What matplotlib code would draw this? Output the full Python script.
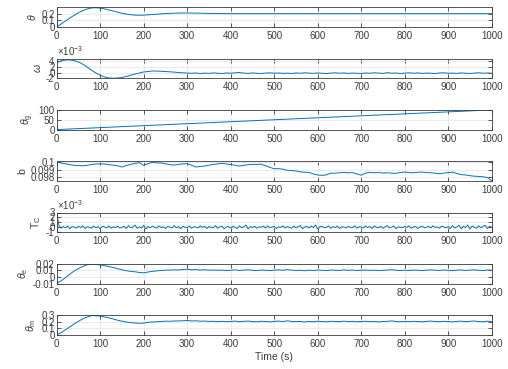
import numpy as np
import matplotlib.pyplot as plt

plt.rcParams['font.family'] = ['Liberation Sans', 'DejaVu Sans']
plt.rcParams['mathtext.fontset'] = 'custom'
plt.rcParams['mathtext.rm'] = 'Liberation Sans'
plt.rcParams['mathtext.it'] = 'Liberation Sans:italic'

# time axis (s)
t10 = np.arange(0, 1001, 10)
t5 = np.arange(0, 1001, 5)
theta_t = list(range(0, 400, 10)) + [400, 500, 600, 700, 800, 900, 1000]
thetag_t = [0, 100, 200, 300, 400, 500, 600, 700, 800, 900, 1000]

theta = [0, 0.045, 0.09, 0.133, 0.175, 0.213, 0.245, 0.27, 0.285, 0.289,
         0.283, 0.271, 0.256, 0.239, 0.222, 0.206, 0.193, 0.184, 0.178, 0.176,
         0.178, 0.182, 0.187, 0.192, 0.197, 0.201, 0.204, 0.207, 0.209, 0.21,
         0.21, 0.209, 0.208, 0.207, 0.205, 0.204, 0.203, 0.202, 0.201, 0.2,
         0.2, 0.2, 0.2, 0.2, 0.2, 0.2, 0.2]

# omega in units of 1e-3
omega = [3.6, 4.2, 4.5, 4.55, 4.3, 3.8, 3.0, 2.0, 0.9, -0.1,
         -0.9, -1.5, -1.85, -1.95, -1.9, -1.7, -1.35, -0.9, -0.5, -0.1,
         0.25, 0.4, 0.6, 0.55, 0.5, 0.4, 0.3, 0.2, 0.05, -0.05,
         -0.15, -0.2, -0.1, -0.3, -0.15, -0.25, -0.1, -0.2, -0.3, -0.1,
         -0.2, -0.05, 0.05, -0.15, -0.25, -0.1, -0.2, -0.3, -0.15, -0.05,
         -0.2, -0.1, -0.25, -0.15, -0.3, -0.1, -0.2, -0.05, -0.15, -0.25,
         -0.1, -0.2, -0.3, -0.15, -0.05, -0.2, -0.1, -0.25, -0.15, -0.2,
         -0.3, -0.1, -0.2, -0.05, -0.15, -0.25, 0.0, -0.2, -0.1, -0.3,
         -0.15, -0.05, -0.2, -0.1, -0.25, -0.15, -0.2, -0.3, -0.1, -0.05,
         -0.2, -0.15, -0.25, -0.1, -0.2, -0.3, -0.15, -0.05, -0.2, -0.1,
         -0.2]

theta_g = [0, 10, 20, 30, 40, 50, 60, 70, 80, 90, 100]

b = [0.10005, 0.0999, 0.0998, 0.09968, 0.09958, 0.09955, 0.09952, 0.09958, 0.0997, 0.09975,
     0.0998, 0.09975, 0.09967, 0.0996, 0.09952, 0.09935, 0.09955, 0.0997, 0.09985, 0.09995,
     0.09957, 0.0998, 0.1, 0.09992, 0.0999, 0.0998, 0.09967, 0.09962, 0.0997, 0.09978,
     0.0998, 0.0996, 0.09935, 0.09942, 0.09948, 0.0996, 0.0997, 0.09978, 0.09985, 0.09978,
     0.09967, 0.0996, 0.09948, 0.09958, 0.09967, 0.09972, 0.0997, 0.09975, 0.09952, 0.0993,
     0.0991, 0.09912, 0.09905, 0.0989, 0.09886, 0.0988, 0.09868, 0.09862, 0.0986, 0.0984,
     0.09824, 0.0982, 0.09826, 0.0985, 0.0985, 0.09855, 0.0986, 0.09855, 0.09858, 0.0984,
     0.09822, 0.0985, 0.09862, 0.09855, 0.09858, 0.09852, 0.09855, 0.0985, 0.09848, 0.09858,
     0.09865, 0.09858, 0.09855, 0.09862, 0.09865, 0.09858, 0.09855, 0.0985, 0.0984, 0.09852,
     0.09858, 0.09865, 0.09845, 0.0983, 0.09825, 0.09815, 0.09808, 0.09805, 0.098, 0.0979,
     0.09745]

# T_C in units of 1e-3, every 5 s
tc = [3.0, 0.35, -0.2, 0.15, -0.1, 0.25, -0.3, 0.1, 0.05, -0.15, 0.2, -0.05, 0.3, -0.25, 0.1, 0.0, -0.2, 0.25, -0.1, 0.15,
      -0.3, 0.2, 0.05, -0.1, 0.3, -0.2, 0.1, -0.05, 0.25, -0.15, 0.0, 0.2, -0.25, 0.35, -0.1, 0.05, 0.45, -0.2, 0.1, -0.15,
      0.4, -0.35, 0.15, -0.1, 0.25, 0.0, -0.2, 0.3, -0.05, 0.1, -0.25, 0.2, 0.05, -0.15, 0.35, -0.1, 0.15, -0.3, 0.2, 0.0,
      -0.1, 0.25, -0.2, 0.1, 0.05, -0.15, 0.3, -0.05, 0.2, -0.25, 0.15, 0.0, -0.1, 0.35, -0.2, 0.1, 0.25, -0.3, 0.05, 0.15,
      -0.15, 0.2, 0.0, -0.25, 0.3, -0.1, 0.1, 0.45, -0.35, 0.15, -0.05, 0.2, -0.2, 0.1, 0.0, 0.25, -0.15, 0.3, -0.1, 0.05,
      0.2, -0.25, 0.1, -0.05, 0.3, -0.15, 0.15, 0.0, -0.2, 0.25, -0.1, 0.1, 0.35, -0.3, 0.05, 0.2, -0.15, 0.25, -0.05, 0.45,
      -0.35, 0.1, 0.2, -0.1, 0.0, 0.3, -0.2, 0.15, -0.05, 0.25, -0.25, 0.1, 0.05, -0.15, 0.2, 0.0, -0.1, 0.3, -0.2, 0.1,
      0.05, -0.15, 0.25, -0.05, 0.15, -0.25, 0.3, 0.0, -0.1, 0.2, -0.2, 0.1, 0.35, -0.15, 0.05, 0.25, -0.3, 0.1, 0.0, -0.1,
      0.2, -0.05, 0.3, -0.2, 0.1, 0.15, -0.25, 0.05, 0.25, -0.1, 0.0, 0.2, -0.15, 0.3, -0.05, 0.1, -0.2, 0.25, 0.05, -0.1,
      0.15, -0.25, 0.35, -0.15, 0.1, 0.4, -0.3, 0.2, -0.05, 0.45, -0.35, 0.25, 0.0, -0.2, 0.3, -0.1, 0.15, 0.4, -0.25, 0.2,
      0.05]

theta_e = [-0.0098, -0.006, -0.001, 0.004, 0.009, 0.0128, 0.016, 0.0185, 0.0195, 0.0192,
           0.0183, 0.0172, 0.0158, 0.0143, 0.0125, 0.011, 0.0095, 0.0085, 0.0078, 0.0068,
           0.0062, 0.0075, 0.0085, 0.0092, 0.0098, 0.0103, 0.0104, 0.0108, 0.0106, 0.0112,
           0.0118, 0.0109, 0.0112, 0.0105, 0.0109, 0.0103, 0.0106, 0.0101, 0.0104, 0.0098,
           0.0102, 0.0107, 0.0099, 0.0104, 0.0109, 0.0101, 0.0097, 0.0105, 0.0102, 0.0096,
           0.0104, 0.0108, 0.0101, 0.0112, 0.0103, 0.0099, 0.0102, 0.0094, 0.0103, 0.0098,
           0.0106, 0.0101, 0.0097, 0.0105, 0.0102, 0.0099, 0.0107, 0.0101, 0.0104, 0.0098,
           0.0102, 0.0105, 0.0099, 0.0103, 0.0096, 0.0101, 0.0104, 0.0111, 0.0102, 0.0098,
           0.0103, 0.0099, 0.0105, 0.0101, 0.0097, 0.0104, 0.0108, 0.0102, 0.0099, 0.0105,
           0.0101, 0.0096, 0.0103, 0.0107, 0.0099, 0.0104, 0.0109, 0.0101, 0.0098, 0.0106,
           0.0102]

theta_m = [0.0, 0.03, 0.075, 0.12, 0.165, 0.205, 0.245, 0.27, 0.292, 0.29,
           0.285, 0.272, 0.258, 0.24, 0.222, 0.208, 0.195, 0.186, 0.18, 0.175,
           0.178, 0.19, 0.195, 0.2, 0.203, 0.208, 0.206, 0.21, 0.212, 0.214,
           0.218, 0.211, 0.213, 0.207, 0.209, 0.204, 0.206, 0.202, 0.205, 0.199,
           0.203, 0.208, 0.2, 0.205, 0.209, 0.202, 0.198, 0.206, 0.203, 0.197,
           0.205, 0.209, 0.202, 0.213, 0.204, 0.2, 0.203, 0.195, 0.204, 0.199,
           0.207, 0.202, 0.198, 0.206, 0.203, 0.2, 0.208, 0.202, 0.205, 0.199,
           0.203, 0.206, 0.2, 0.204, 0.197, 0.202, 0.205, 0.212, 0.203, 0.199,
           0.204, 0.2, 0.206, 0.202, 0.198, 0.205, 0.209, 0.203, 0.2, 0.206,
           0.202, 0.197, 0.204, 0.208, 0.2, 0.205, 0.21, 0.202, 0.199, 0.207,
           0.203]

blue = '#0072BD'
dark = '#3c3c3c'

panels = [
    (theta_t, theta, r'$\theta$', (0, 0.295), [0, 0.1, 0.2], False),
    (t10, omega, r'$\omega$', (-2, 5), [-2, 0, 2, 4], True),
    (thetag_t, theta_g, r'$\theta_{\rm g}$', (0, 100), [0, 50, 100], False),
    (t10, b, 'b', (0.09743, 0.10015), [0.098, 0.099, 0.1], False),
    (t5, tc, r'$\rm T_C$', (-1, 3), [-1, 0, 1, 2, 3], True),
    (t10, theta_e, r'$\theta_{\rm e}$', (-0.01, 0.02), [-0.01, 0, 0.01, 0.02], False),
    (t10, theta_m, r'$\theta_{\rm m}$', (0, 0.3), [0, 0.1, 0.2, 0.3], False),
]

fig = plt.figure(figsize=(5.08, 3.69), dpi=100)

for k, (x, y, lab, ylim, yt, sci) in enumerate(panels):
    top = 7.3 + 51.3 * k
    ax = fig.add_axes([56.7 / 508, 1 - (top + 19.7) / 369, 435 / 508, 19.7 / 369])
    ax.plot(x, y, color=blue, lw=0.7)
    ax.set_xlim(0, 1000)
    ax.set_xticks(range(0, 1001, 100))
    ax.set_ylim(*ylim)
    ax.set_yticks(yt)
    ax.set_yticklabels([('%g' % v) for v in yt])
    ax.grid(True, color='#e6e6e6', lw=0.6)
    ax.set_axisbelow(True)
    ax.tick_params(direction='in', top=True, right=True, length=3, width=0.6,
                   labelsize=7, colors=dark)
    ax.tick_params(axis='x', pad=3)
    ax.tick_params(axis='y', pad=1.5)
    for s in ax.spines.values():
        s.set_color(dark)
        s.set_linewidth(0.6)
    ax.set_ylabel(lab, fontsize=7.5, color=dark, labelpad=2)
    if sci:
        ax.text(0, 1.05, r'$\times10^{-3}$', transform=ax.transAxes,
                ha='left', va='bottom', fontsize=7, color=dark)
    if k == len(panels) - 1:
        ax.set_xlabel('Time (s)', fontsize=7.5, color=dark, labelpad=2)

plt.savefig('out.png', dpi=100)
